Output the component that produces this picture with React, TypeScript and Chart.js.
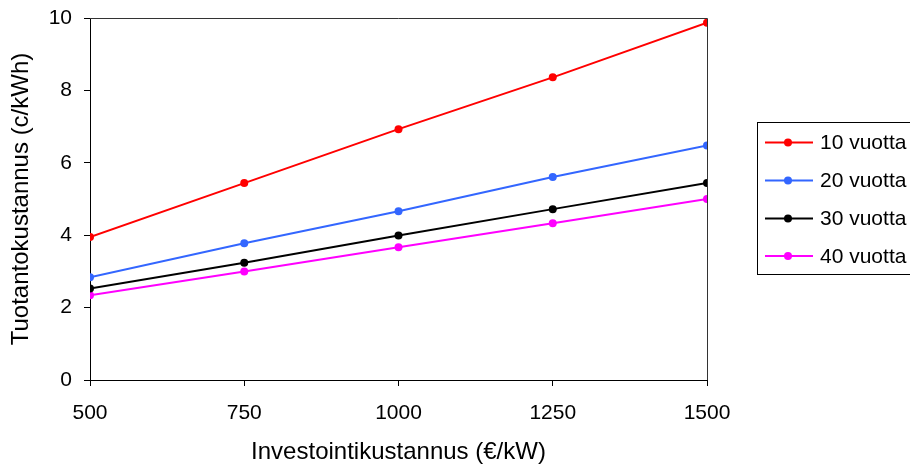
import React, { useEffect, useRef } from "react";
import { Chart, registerables } from "chart.js";

Chart.register(...registerables);

const investment = [500, 750, 1000, 1250, 1500];
const labels10 = "10 vuotta";
const labels20 = "20 vuotta";
const labels30 = "30 vuotta";
const labels40 = "40 vuotta";
const years10 = [3.95, 5.44, 6.93, 8.36, 9.87];
const years20 = [2.84, 3.78, 4.66, 5.61, 6.48];
const years30 = [2.53, 3.24, 3.99, 4.72, 5.44];
const years40 = [2.34, 3.0, 3.67, 4.33, 5.0];
const yTicks = [0, 2, 4, 6, 8, 10];
const xTicks = [500, 750, 1000, 1250, 1500];

const FONT = "'Liberation Sans', Arial, sans-serif";

const toPoints = (ys: number[]) => investment.map((x, i) => ({ x, y: ys[i] }));

const framePlugin = {
  id: "frameLegend",
  afterDraw(chart: any) {
    const { ctx, chartArea } = chart;
    ctx.save();
    // top and right border of plot area
    ctx.strokeStyle = "#333333";
    ctx.lineWidth = 1;
    ctx.beginPath();
    ctx.moveTo(chartArea.left, Math.round(chartArea.top) + 0.5);
    ctx.lineTo(Math.round(chartArea.right) + 0.5, Math.round(chartArea.top) + 0.5);
    ctx.lineTo(Math.round(chartArea.right) + 0.5, chartArea.bottom);
    ctx.stroke();

    // legend box
    ctx.strokeStyle = "#000000";
    ctx.strokeRect(757.5, 122.5, 170, 152);
    const rows = [142.5, 180.5, 218.5, 256];
    chart.data.datasets.forEach((ds: any, i: number) => {
      const y = rows[i];
      ctx.strokeStyle = ds.borderColor;
      ctx.lineWidth = 2;
      ctx.beginPath();
      ctx.moveTo(765, y);
      ctx.lineTo(813, y);
      ctx.stroke();
      ctx.fillStyle = ds.backgroundColor;
      ctx.beginPath();
      ctx.arc(788, y, 4, 0, Math.PI * 2);
      ctx.fill();
      ctx.fillStyle = "#000000";
      ctx.font = `21px ${FONT}`;
      ctx.textBaseline = "middle";
      ctx.textAlign = "left";
      ctx.fillText(ds.label, 820, y + 1);
    });
    ctx.restore();
  },
};

export default function App() {
  const ref = useRef<HTMLCanvasElement | null>(null);

  useEffect(() => {
    document.body.style.margin = "0";
    const mk = (label: string, data: number[], color: string) => ({
      label,
      data: toPoints(data),
      borderColor: color,
      backgroundColor: color,
      borderWidth: 2,
      pointRadius: 4,
      pointBorderWidth: 0,
      pointBackgroundColor: color,
      tension: 0,
    });
    const chart = new Chart(ref.current as HTMLCanvasElement, {
      type: "line",
      data: {
        datasets: [
          mk(labels10, years10, "#FF0000"),
          mk(labels20, years20, "#3366FF"),
          mk(labels30, years30, "#000000"),
          mk(labels40, years40, "#FF00FF"),
        ],
      },
      options: {
        animation: false,
        responsive: false,
        devicePixelRatio: 1,
        layout: { padding: { top: 18, right: 203, bottom: 0, left: 0 } },
        plugins: { legend: { display: false }, tooltip: { enabled: false } },
        scales: {
          x: {
            type: "linear",
            min: 500,
            max: 1500,
            afterBuildTicks: (s: any) => {
              s.ticks = xTicks.map((v) => ({ value: v }));
            },
            afterFit: (s: any) => {
              s.height = 87;
              s.paddingLeft = 0;
              s.paddingRight = 0;
            },
            grid: {
              drawOnChartArea: false,
              drawTicks: true,
              tickLength: 6,
              color: "#000000",
            },
            border: { color: "#000000", width: 1 },
            ticks: {
              color: "#000000",
              font: { family: FONT, size: 21 },
              padding: 15,
              maxRotation: 0,
              callback: (v: any) => String(v),
            },
            title: {
              display: true,
              text: "Investointikustannus (€/kW)",
              color: "#000000",
              font: { family: FONT, size: 24 },
              padding: { top: 0, bottom: 0 },
            },
          },
          y: {
            type: "linear",
            min: 0,
            max: 10,
            afterBuildTicks: (s: any) => {
              s.ticks = yTicks.map((v) => ({ value: v }));
            },
            afterFit: (s: any) => {
              s.width = 90;
              s.paddingTop = 0;
              s.paddingBottom = 0;
            },
            grid: {
              drawOnChartArea: false,
              drawTicks: true,
              tickLength: 6,
              color: "#000000",
            },
            border: { color: "#000000", width: 1 },
            ticks: {
              color: "#000000",
              font: { family: FONT, size: 21 },
              padding: 12,
              callback: (v: any) => String(v),
            },
            title: {
              display: true,
              text: "Tuotantokustannus (c/kWh)",
              color: "#000000",
              font: { family: FONT, size: 24 },
              padding: { top: 7, bottom: 0 },
            },
          },
        },
      },
      plugins: [framePlugin],
    } as any);
    return () => chart.destroy();
  }, []);

  return (
    <div style={{ position: "absolute", left: 0, top: 0, width: 910, height: 467, background: "#fff" }}>
      <canvas ref={ref} width={910} height={467} style={{ width: 910, height: 467 }} />
    </div>
  );
}
